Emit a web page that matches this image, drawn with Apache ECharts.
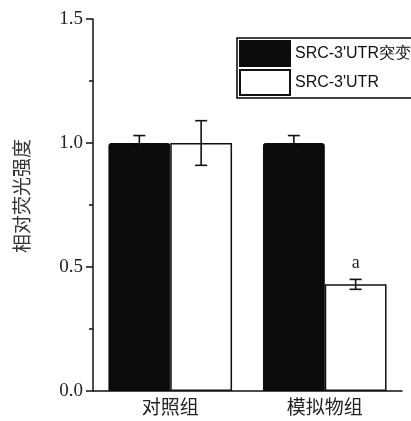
<!DOCTYPE html>
<html>
<head>
<meta charset="utf-8">
<script src="https://cdn.jsdelivr.net/npm/echarts@6/dist/echarts.min.js"></script>
<style>html,body{margin:0;padding:0;background:#fff;}#c{width:411px;height:421px;}</style>
</head>
<body>
<div id="c"></div>
<script>
const categories = ['对照组', '模拟物组'];
const seriesNames = ['SRC-3\'UTR突变', 'SRC-3\'UTR'];
const mutantValues = [1.0, 1.0];
const mutantErrors = [0.03, 0.03];
const wildValues = [1.0, 0.43];
const wildErrors = [0.09, 0.02];
const wildMarks = ['', 'a'];
const yTicks = [0, 0.5, 1.0, 1.5];

const BAR_FRAC = 0.4;
const serif = '"Liberation Serif", "DejaVu Serif", serif';
const cjk = '"Noto Sans CJK SC", sans-serif';

function errRender(sign) {
  return function (params, api) {
    const xi = api.value(0), v = api.value(1), e = api.value(2);
    const cw = api.size([1, 0])[0];
    const off = sign * cw * BAR_FRAC / 2;
    const t = api.coord([xi, v + e]);
    const b = api.coord([xi, v - e]);
    const x = t[0] + off;
    const cap = 6;
    const st = { stroke: '#111', lineWidth: 1.6 };
    return {
      type: 'group',
      children: [
        { type: 'line', shape: { x1: x, y1: t[1], x2: x, y2: b[1] }, style: st },
        { type: 'line', shape: { x1: x - cap, y1: t[1], x2: x + cap, y2: t[1] }, style: st },
        { type: 'line', shape: { x1: x - cap, y1: b[1], x2: x + cap, y2: b[1] }, style: st }
      ]
    };
  };
}

const chart = echarts.init(document.getElementById('c'), null, { renderer: 'canvas' });
chart.setOption({
  animation: false,
  backgroundColor: '#fff',
  grid: { left: 93, right: 9, top: 19, bottom: 30 },
  legend: {
    orient: 'vertical',
    left: 237, top: 38,
    icon: 'rect',
    itemWidth: 50, itemHeight: 25, itemGap: 2,
    padding: [2, 40, 2, 2],
    borderColor: '#000', borderWidth: 1.5,
    textStyle: { fontFamily: '"Liberation Sans", Arial, sans-serif', fontSize: 16, color: '#111' },
    data: seriesNames
  },
  xAxis: [{
    type: 'category',
    data: categories,
    axisLine: { lineStyle: { color: '#111', width: 1.5 } },
    axisTick: { alignWithLabel: true, length: 5, lineStyle: { color: '#111', width: 1.5 } },
    axisLabel: { fontFamily: cjk, fontSize: 19, color: '#222', margin: 6 }
  }, {
    type: 'category',
    data: categories,
    position: 'bottom',
    axisLine: { show: false },
    axisTick: { length: 3, lineStyle: { color: '#111', width: 1.5 } },
    axisLabel: { show: false }
  }],
  yAxis: {
    type: 'value',
    min: yTicks[0], max: yTicks[yTicks.length - 1], interval: 0.5,
    name: '相对荧光强度',
    nameLocation: 'middle', nameGap: 62,
    nameTextStyle: { fontFamily: cjk, fontSize: 19, color: '#333', padding: [0, 0, 0, 18] },
    axisLine: { show: true, lineStyle: { color: '#111', width: 1.5 } },
    axisTick: { show: true, length: 7, lineStyle: { color: '#111', width: 1.5 } },
    minorTick: { show: true, splitNumber: 2, length: 4, lineStyle: { color: '#111', width: 1.5 } },
    splitLine: { show: false },
    axisLabel: { fontFamily: serif, fontSize: 19, color: '#222', margin: 10, formatter: v => v.toFixed(1) }
  },
  series: [{
    name: seriesNames[0],
    type: 'bar',
    data: mutantValues,
    barWidth: (BAR_FRAC * 100) + '%',
    barGap: '0%',
    itemStyle: { color: '#0b0b0b', borderColor: '#0b0b0b', borderWidth: 1, borderRadius: [2, 2, 0, 0] }
  }, {
    name: seriesNames[1],
    type: 'bar',
    data: wildValues,
    barWidth: (BAR_FRAC * 100) + '%',
    barGap: '0%',
    itemStyle: { color: '#fff', borderColor: '#111', borderWidth: 1.5 },
    label: {
      show: true, position: 'top', distance: 12,
      fontFamily: serif, fontSize: 18, color: '#222',
      formatter: p => wildMarks[p.dataIndex]
    }
  }, {
    type: 'custom',
    renderItem: errRender(-1),
    data: mutantValues.map((v, i) => [i, v, mutantErrors[i]]),
    encode: { x: 0, y: 1 },
    z: 5, silent: true
  }, {
    type: 'custom',
    renderItem: errRender(1),
    data: wildValues.map((v, i) => [i, v, wildErrors[i]]),
    encode: { x: 0, y: 1 },
    z: 5, silent: true
  }]
});
</script>
</body>
</html>
